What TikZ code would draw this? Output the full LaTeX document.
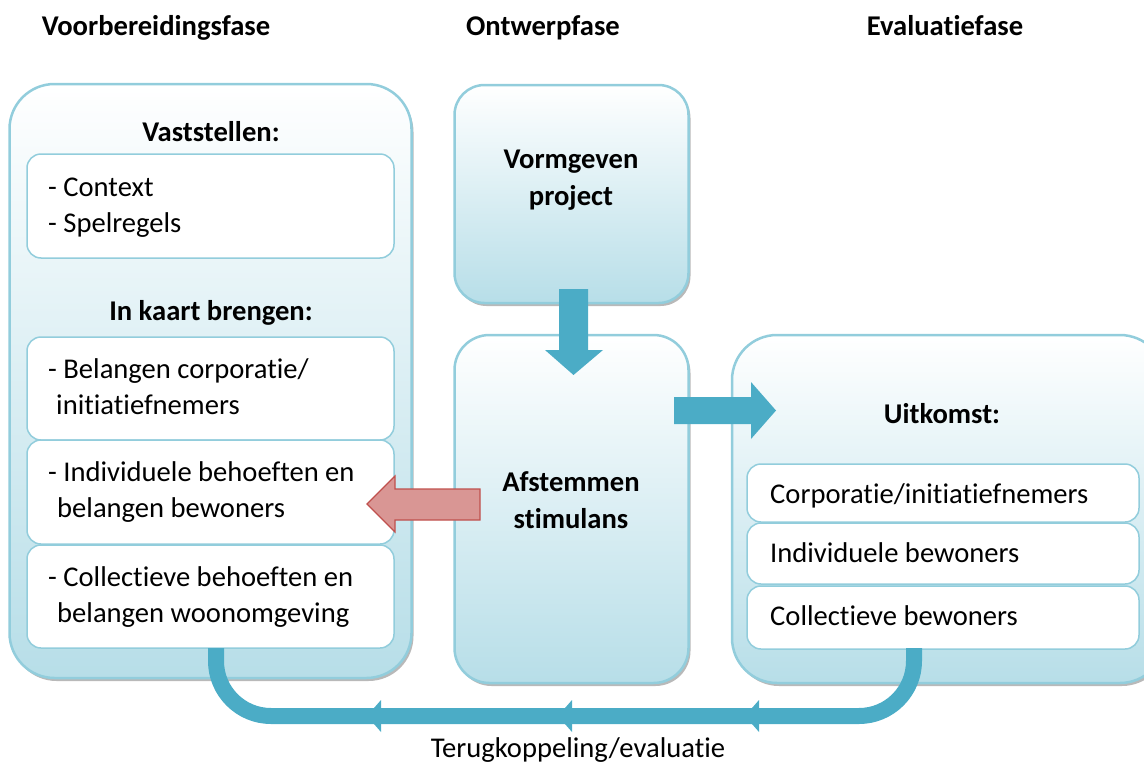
\documentclass[tikz,border=0pt]{standalone}
\usepackage{fontspec}
\setmainfont{Carlito}[Ligatures=NoCommon]
\definecolor{bordblue}{HTML}{92CDDC}
\definecolor{fillblue}{HTML}{B7DEE8}
\definecolor{arrblue}{HTML}{4BACC6}
\definecolor{redfill}{HTML}{D99694}
\definecolor{redline}{HTML}{C0504D}
\tikzset{
  bigbox/.style={draw=bordblue, line width=2.5pt, rounded corners=45pt, top color=white, bottom color=fillblue, inner sep=0pt},
  shadowbox/.style={fill=gray!55, draw=none, rounded corners=45pt, inner sep=0pt},
  smallbox/.style={draw=bordblue, line width=1.5pt, fill=white, rounded corners=14pt, inner sep=0pt},
  txt/.style={font=\fontsize{28.6}{36}\selectfont, align=left, anchor=west, inner sep=0pt},
  hd/.style={font=\bfseries\fontsize{28.6}{37}\selectfont, align=center, inner sep=0pt},
  blockarrow/.style={fill=arrblue, draw=none},
}
\begin{document}
\begin{tikzpicture}[x=1pt,y=-1pt]
\useasboundingbox (0,0) rectangle (1144,763);
\clip (0,0) rectangle (1144,763);
% phase titles
\node[hd, anchor=base] (t1) at (156,35) {Voorbereidingsfase};
\node[hd, anchor=base] (t2) at (543,35) {Ontwerpfase};
\node[hd, anchor=base] (t3) at (945,35) {Evaluatiefase};
% shadows
\node[shadowbox, minimum width=402pt, minimum height=594pt] at (212.5,384) {};
\node[shadowbox, rounded corners=30pt, minimum width=234pt, minimum height=218pt] at (573.5,197) {};
\node[shadowbox, rounded corners=35pt, minimum width=234pt, minimum height=348pt] at (573.5,512) {};
\node[shadowbox, minimum width=433pt, minimum height=348pt] at (950.5,512) {};
% big boxes
\node[bigbox, minimum width=402pt, minimum height=594pt] (L) at (210.5,381) {};
\node[bigbox, rounded corners=30pt, minimum width=234pt, minimum height=218pt] (MT) at (571.5,194) {};
\node[bigbox, rounded corners=35pt, minimum width=234pt, minimum height=348pt] (MB) at (571.5,509) {};
\node[bigbox, minimum width=433pt, minimum height=348pt] (R) at (948.5,509) {};
% left content
\node[hd] (vast) at (211,132) {Vaststellen:};
\node[smallbox, minimum width=367pt, minimum height=104pt] (b1) at (210.5,206) {};
\node[txt] (b1t) at (48,208) {- Context\\- Spelregels};
\node[hd] (kaart) at (211,313) {In kaart brengen:};
\node[smallbox, minimum width=367pt, minimum height=103pt] (b2) at (210.5,388.5) {};
\node[txt] (b2t) at (48,387) {- Belangen corporatie/\\\hspace*{8pt}initiatiefnemers};
\node[smallbox, minimum width=367pt, minimum height=104pt] (b3) at (210.5,492) {};
\node[txt] (b3t) at (48,492) {- Individuele behoeften en\\\hspace*{9pt}belangen bewoners};
\node[smallbox, minimum width=367pt, minimum height=103pt] (b4) at (210.5,596.5) {};
\node[txt] (b4t) at (48,597) {- Collectieve behoeften en\\\hspace*{9pt}belangen woonomgeving};
% middle content
\node[hd] (vorm) at (571,180) {Vormgeven\\project};
\node[hd] (afst) at (571,500) {Afstemmen\\stimulans};
% right content
\node[hd] (uit) at (942,414) {Uitkomst:};
\node[smallbox, minimum width=392pt, minimum height=58pt] (r1) at (943,493) {};
\node[txt] (r1t) at (770,496) {Corporatie/initiatiefnemers};
\node[smallbox, minimum width=392pt, minimum height=61pt] (r2) at (943,553.5) {};
\node[txt] (r2t) at (770,553) {Individuele bewoners};
\node[smallbox, minimum width=392pt, minimum height=63pt] (r3) at (943,617.5) {};
\node[txt] (r3t) at (770,616) {Collectieve bewoners};
% down arrow
\fill[blockarrow] (559,289) -- (588,289) -- (588,350) -- (603,350) -- (573.5,375) -- (545,350) -- (559,350) -- cycle;
% right arrow
\fill[blockarrow] (674,397) -- (751,397) -- (751,382) -- (776,410.5) -- (751,439) -- (751,424) -- (674,424) -- cycle;
% red arrow
\draw[fill=redfill, draw=redline, line width=1.2pt] (480,489) -- (395,489) -- (395,476) -- (367,504) -- (395,532) -- (395,520) -- (480,520) -- cycle;
% feedback loop
\coordinate (fbL) at (216,648);
\coordinate (fbR) at (914,648);
\draw[arrblue, line width=16pt, rounded corners=55pt] (fbR) -- (914,716) -- (216,716) -- (fbL);
\foreach \tx in {367,558,745}{
  \fill[arrblue] (\tx,716) -- (\tx+14,700) -- (\tx+14,732) -- cycle;
}
\node[font=\fontsize{28.6}{30}\selectfont, inner sep=0pt] (fb) at (578,750) {Terugkoppeling/evaluatie};
\end{tikzpicture}
\end{document}
